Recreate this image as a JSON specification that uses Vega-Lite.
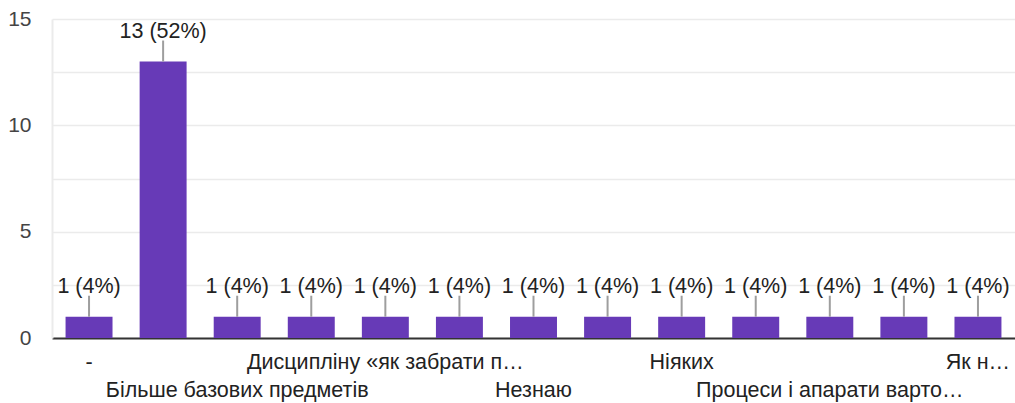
{
  "$schema": "https://vega.github.io/schema/vega-lite/v6.json",
  "width": 963,
  "height": 319,
  "autosize": {"type": "none"},
  "padding": {"left": 52, "top": 19, "right": 0, "bottom": 65},
  "background": "#ffffff",
  "config": {
    "view": {"stroke": null},
    "font": "Liberation Sans",
    "text": {"font": "Liberation Sans", "fontSize": 21.5, "color": "#222222"},
    "axis": {"labelFont": "Liberation Sans", "labelFontSize": 21, "labelColor": "#444444"}
  },
  "data": {
    "values": [
      {"n": 1, "answer": "-", "count": 1, "label": "1 (4%)"},
      {"n": 2, "answer": "", "count": 13, "label": "13 (52%)"},
      {"n": 3, "answer": "Більше базових предметів", "count": 1, "label": "1 (4%)"},
      {"n": 4, "answer": "", "count": 1, "label": "1 (4%)"},
      {"n": 5, "answer": "Дисципліну «як забрати п…", "count": 1, "label": "1 (4%)"},
      {"n": 6, "answer": "", "count": 1, "label": "1 (4%)"},
      {"n": 7, "answer": "Незнаю", "count": 1, "label": "1 (4%)"},
      {"n": 8, "answer": "", "count": 1, "label": "1 (4%)"},
      {"n": 9, "answer": "Ніяких", "count": 1, "label": "1 (4%)"},
      {"n": 10, "answer": "", "count": 1, "label": "1 (4%)"},
      {"n": 11, "answer": "Процеси і апарати варто…", "count": 1, "label": "1 (4%)"},
      {"n": 12, "answer": "", "count": 1, "label": "1 (4%)"},
      {"n": 13, "answer": "Як н…", "count": 1, "label": "1 (4%)"}
    ]
  },
  "encoding": {
    "x": {
      "field": "n",
      "type": "ordinal",
      "scale": {"paddingInner": 0.366, "paddingOuter": 0.183},
      "axis": {"title": null, "labels": false, "ticks": false, "domainColor": "#333333", "domainWidth": 2}
    }
  },
  "layer": [
    {
      "mark": {"type": "bar", "color": "#673ab7"},
      "encoding": {
        "y": {
          "field": "count",
          "type": "quantitative",
          "scale": {"domain": [0, 15], "nice": false},
          "axis": {
            "title": null,
            "values": [0, 2.5, 5, 7.5, 10, 12.5, 15],
            "labelExpr": "datum.value % 5 == 0 ? datum.label : ''",
            "ticks": false,
            "labelPadding": 21,
            "gridColor": "#ebebeb",
            "gridWidth": 1.5,
            "domain": true,
            "domainColor": "#ebebeb",
            "domainWidth": 2
          }
        }
      }
    },
    {
      "mark": {"type": "rule", "color": "#9e9e9e", "strokeWidth": 2, "y2Offset": -21},
      "encoding": {
        "y": {"field": "count", "type": "quantitative"},
        "y2": {"field": "count"}
      }
    },
    {
      "mark": {"type": "text", "baseline": "alphabetic", "dy": -24},
      "encoding": {
        "y": {"field": "count", "type": "quantitative"},
        "text": {"field": "label"}
      }
    },
    {
      "transform": [{"filter": "datum.n % 4 == 1"}],
      "mark": {"type": "text", "baseline": "middle", "dy": 25},
      "encoding": {
        "y": {"datum": 0},
        "text": {"field": "answer"}
      }
    },
    {
      "transform": [{"filter": "datum.n % 4 == 3"}],
      "mark": {"type": "text", "baseline": "middle", "dy": 53},
      "encoding": {
        "y": {"datum": 0},
        "text": {"field": "answer"}
      }
    }
  ]
}
